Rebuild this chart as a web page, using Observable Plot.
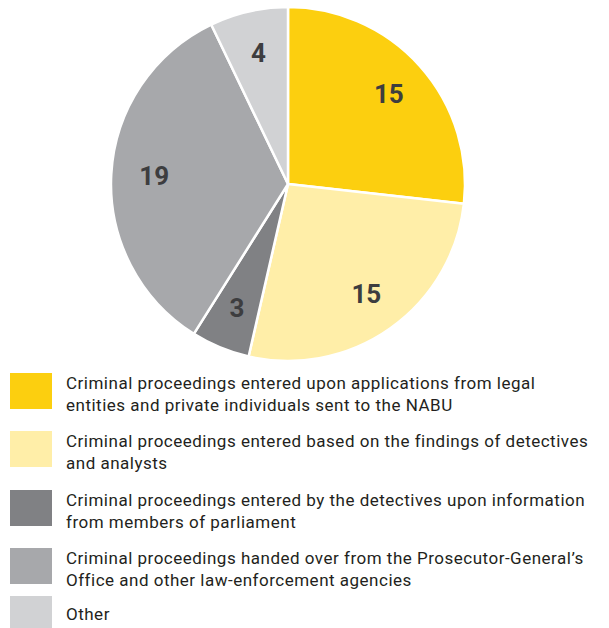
<!DOCTYPE html>
<html>
<head>
<meta charset="utf-8">
<script src="https://cdn.jsdelivr.net/npm/d3@7"></script>
<script src="https://cdn.jsdelivr.net/npm/@observablehq/plot@0.6"></script>
<style>
  html, body { margin: 0; padding: 0; background: #fff; }
  #wrap { width: 609px; font-family: Roboto, "Noto Sans", sans-serif; }
  .legend { margin-top: 5px; }
  .item { display: flex; align-items: flex-start; height: 44px; }
  .sw { width: 42px; height: 36px; margin-left: 10px; flex: none; }
  .lbl { margin-left: 14px; font-size: 17px; line-height: 22px; letter-spacing: 0.5px; color: #231f20; margin-top: -1px; white-space: nowrap; }
</style>
</head>
<body>
<div id="wrap"></div>
<script>
const categories = [
  "Criminal proceedings entered upon applications from legal entities and private individuals sent to the NABU",
  "Criminal proceedings entered based on the findings of detectives and analysts",
  "Criminal proceedings entered by the detectives upon information from members of parliament",
  "Criminal proceedings handed over from the Prosecutor-General\u2019s Office and other law-enforcement agencies",
  "Other"
];
const values = [15, 15, 3, 19, 4];
const colors = ["#fccf0f", "#ffeea8", "#808184", "#a7a8ab", "#d1d2d4"];
const legendLines = [
  ["Criminal proceedings entered upon applications from legal", "entities and private individuals sent to the NABU"],
  ["Criminal proceedings entered based on the findings of detectives", "and analysts"],
  ["Criminal proceedings entered by the detectives upon information", "from members of parliament"],
  ["Criminal proceedings handed over from the Prosecutor-General\u2019s", "Office and other law-enforcement agencies"],
  ["Other"]
];

const data = categories.map((c, i) => ({category: c, value: values[i], color: colors[i]}));
const arcs = d3.pie().sort(null).value(d => d.value)(data);
const labelR = 0.76;
const labels = arcs.map(a => {
  const mid = (a.startAngle + a.endAngle) / 2;
  return {x: labelR * Math.sin(mid), y: labelR * Math.cos(mid), text: String(a.data.value)};
});

function pieMark(index, scales) {
  const cx = scales.x(0), cy = scales.y(0);
  const r = scales.x(1) - scales.x(0);
  const arcGen = d3.arc().innerRadius(0).outerRadius(r);
  const g = d3.create("svg:g").attr("transform", `translate(${cx},${cy})`);
  g.selectAll("path").data(arcs).join("path")
    .attr("d", arcGen)
    .attr("fill", d => d.data.color)
    .attr("stroke", "#fff")
    .attr("stroke-width", 2.5)
    .attr("stroke-linejoin", "round");
  return g.node();
}

const chart = Plot.plot({
  width: 609,
  height: 368,
  marginLeft: 111,
  marginRight: 144,
  marginTop: 7,
  marginBottom: 7,
  x: {domain: [-1, 1], axis: null},
  y: {domain: [-1, 1], axis: null},
  marks: [
    pieMark,
    Plot.text(labels, {
      x: "x", y: "y", text: "text",
      fontSize: 26, fontWeight: "bold", fill: "#3d3d3f",
      fontFamily: "Roboto, sans-serif"
    })
  ]
});

const wrap = document.getElementById("wrap");
wrap.appendChild(chart);
const legend = document.createElement("div");
legend.className = "legend";
const gaps = [14, 15, 14, 4, 0];
legendLines.forEach((lines, i) => {
  const item = document.createElement("div");
  item.className = "item";
  item.style.marginBottom = gaps[i] + "px";
  const sw = document.createElement("div");
  sw.className = "sw";
  sw.style.background = colors[i];
  const lbl = document.createElement("div");
  lbl.className = "lbl";
  if (lines.length === 1) lbl.style.marginTop = "7px";
  lbl.innerHTML = lines.join("<br>");
  item.appendChild(sw);
  item.appendChild(lbl);
  legend.appendChild(item);
});
wrap.appendChild(legend);
</script>
</body>
</html>
